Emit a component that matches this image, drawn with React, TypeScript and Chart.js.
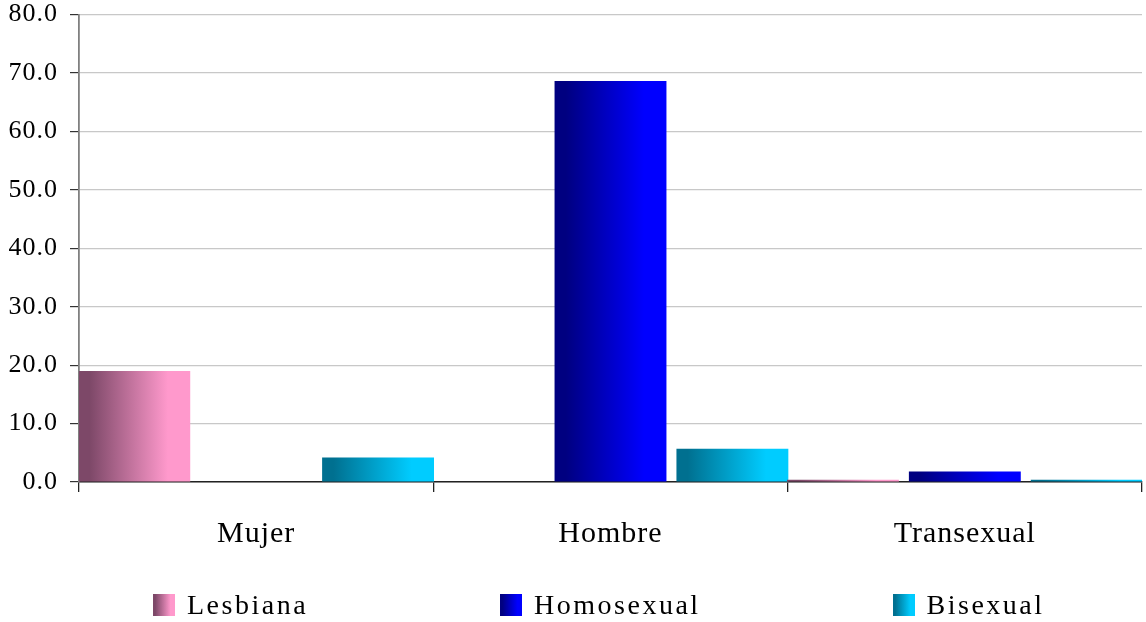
import React, { useEffect, useRef } from 'react';
import { Chart, registerables } from 'chart.js';

Chart.register(...registerables);

const categories = ['Mujer', 'Hombre', 'Transexual'];
const seriesNames = ['Lesbiana', 'Homosexual', 'Bisexual'];
const lesbiana = [19.0, 0, 0.4];
const homosexual = [0, 68.6, 1.8];
const bisexual = [4.2, 5.7, 0.4];
const yMin = 0;
const yMax = 80;
const yStep = 10;

const darkColors = ['#7d4868', '#000080', '#007090'];
const lightColors = ['#ff99cc', '#0000ff', '#00ccff'];

const FONT = '"Liberation Serif", "Times New Roman", serif';

const gradientPlugin = {
  id: 'hGradient',
  beforeDatasetsDraw(chart: any) {
    const ctx = chart.ctx;
    chart.data.datasets.forEach((_ds: any, i: number) => {
      const meta = chart.getDatasetMeta(i);
      meta.data.forEach((el: any) => {
        const { x, width } = el.getProps(['x', 'width'], true);
        if (!isFinite(x) || !isFinite(width)) return;
        const g = ctx.createLinearGradient(x - width / 2, 0, x + width / 2, 0);
        g.addColorStop(0, darkColors[i]);
        g.addColorStop(0.1, darkColors[i]);
        g.addColorStop(0.8, lightColors[i]);
        g.addColorStop(1, lightColors[i]);
        el.options.backgroundColor = g;
      });
    });
  },
};

const spacingPlugin = {
  id: 'letterSpacing',
  beforeUpdate(chart: any) {
    chart.ctx.letterSpacing = '1px';
  },
  beforeDraw(chart: any) {
    chart.ctx.letterSpacing = '1px';
  },
};

export default function App() {
  const ref = useRef<HTMLCanvasElement | null>(null);

  useEffect(() => {
    if (!ref.current) return;
    const series = [lesbiana, homosexual, bisexual];
    const chart = new Chart(ref.current, {
      type: 'bar',
      data: {
        labels: categories,
        datasets: seriesNames.map((name, i) => ({
          label: name,
          data: series[i],
          backgroundColor: () => lightColors[i],
          borderWidth: 0,
          categoryPercentage: 1.032,
          barPercentage: 0.918,
        })),
      },
      options: {
        responsive: false,
        animation: false,
        layout: { padding: { left: 9, right: 4, top: 14.5, bottom: 70 } },
        plugins: {
          legend: { display: false },
          tooltip: { enabled: false },
        },
        scales: {
          x: {
            z: 1,
            afterFit: (scale: any) => {
              scale.height = 70;
            },
            grid: {
              display: true,
              drawOnChartArea: false,
              drawTicks: true,
              tickLength: 10,
              color: '#222',
              tickColor: '#222',
              lineWidth: 1.3,
            },
            border: { display: true, color: '#222', width: 1.5 },
            ticks: {
              color: '#000',
              padding: 24,
              font: { family: FONT, size: 30 },
            },
          },
          y: {
            min: yMin,
            max: yMax,
            afterFit: (scale: any) => {
              scale.width = 70;
              scale.paddingTop = 0;
              scale.paddingBottom = 0;
            },
            grid: {
              color: '#c8c8c8',
              tickColor: '#333',
              tickLength: 9,
              lineWidth: 1.2,
            },
            border: { display: true, color: '#808080', width: 1.8 },
            ticks: {
              stepSize: yStep,
              color: '#000',
              padding: 12,
              font: { family: FONT, size: 26, lineHeight: 1 },
              callback: (v: any) => Number(v).toFixed(1),
            },
          },
        },
      },
      plugins: [spacingPlugin, gradientPlugin],
    });
    return () => chart.destroy();
  }, []);

  return (
    <div style={{ position: 'absolute', left: 0, top: 0, width: 1146, height: 622, background: '#fff' }}>
      <canvas ref={ref} width={1146} height={622} style={{ display: 'block' }} />
      <div
        style={{
          position: 'absolute',
          left: 153,
          top: 591,
          display: 'flex',
          alignItems: 'center',
          gap: 192,
          fontFamily: FONT,
          fontSize: 28,
          lineHeight: '28px',
          letterSpacing: '2.5px',
          color: '#000',
          whiteSpace: 'nowrap',
        }}
      >
        {seriesNames.map((name, i) => (
          <div key={name} style={{ display: 'flex', alignItems: 'center' }}>
            <span
              style={{
                display: 'inline-block',
                width: 22,
                height: 22,
                marginRight: 12,
                background: `linear-gradient(to right, ${darkColors[i]} 10%, ${lightColors[i]} 80%)`,
              }}
            />
            <span>{name}</span>
          </div>
        ))}
      </div>
    </div>
  );
}
